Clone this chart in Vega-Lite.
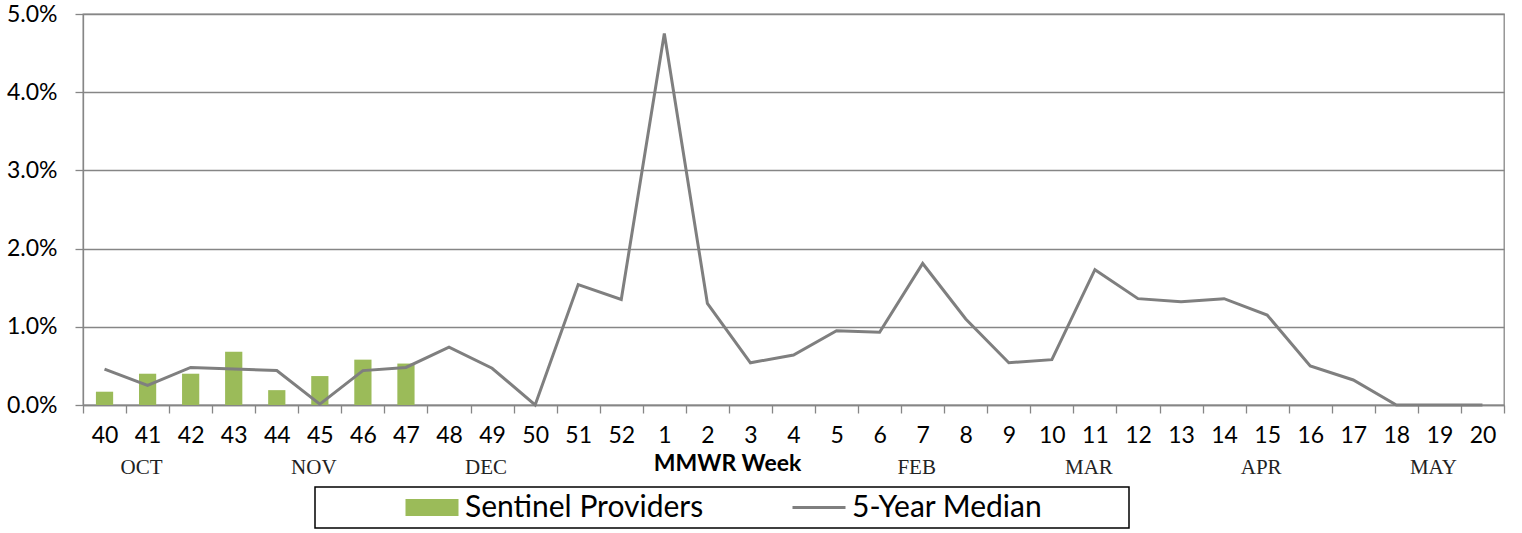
{
  "$schema": "https://vega.github.io/schema/vega-lite/v6.json",
  "width": 1421,
  "height": 391,
  "autosize": {"type": "none"},
  "padding": {"left": 83, "top": 14, "right": 18, "bottom": 128},
  "background": "white",
  "config": {
    "view": {"stroke": "#868686", "strokeWidth": 1.3},
    "font": "Lato",
    "axis": {
      "domainColor": "#868686",
      "domainWidth": 1.3,
      "tickColor": "#868686",
      "tickWidth": 1.3,
      "tickSize": 8,
      "labelColor": "black",
      "labelFont": "Lato",
      "labelFontSize": 23
    }
  },
  "data": {
    "values": [
      {"week": "40", "sentinel": 0.17, "median": 0.46},
      {"week": "41", "sentinel": 0.40, "median": 0.25},
      {"week": "42", "sentinel": 0.40, "median": 0.48},
      {"week": "43", "sentinel": 0.68, "median": 0.46},
      {"week": "44", "sentinel": 0.19, "median": 0.44},
      {"week": "45", "sentinel": 0.37, "median": 0.01},
      {"week": "46", "sentinel": 0.58, "median": 0.44},
      {"week": "47", "sentinel": 0.53, "median": 0.48},
      {"week": "48", "median": 0.74},
      {"week": "49", "median": 0.47},
      {"week": "50", "median": 0.0},
      {"week": "51", "median": 1.54},
      {"week": "52", "median": 1.35},
      {"week": "1", "median": 4.75},
      {"week": "2", "median": 1.30},
      {"week": "3", "median": 0.54},
      {"week": "4", "median": 0.64},
      {"week": "5", "median": 0.95},
      {"week": "6", "median": 0.93},
      {"week": "7", "median": 1.81},
      {"week": "8", "median": 1.10},
      {"week": "9", "median": 0.54},
      {"week": "10", "median": 0.58},
      {"week": "11", "median": 1.73},
      {"week": "12", "median": 1.36},
      {"week": "13", "median": 1.32},
      {"week": "14", "median": 1.36},
      {"week": "15", "median": 1.15},
      {"week": "16", "median": 0.50},
      {"week": "17", "median": 0.32},
      {"week": "18", "median": 0.0},
      {"week": "19", "median": 0.0},
      {"week": "20", "median": 0.0}
    ]
  },
  "layer": [
    {
      "mark": {"type": "bar", "width": {"band": 0.4}},
      "encoding": {
        "x": {
          "field": "week",
          "type": "nominal",
          "scale": {
            "domain": ["40","41","42","43","44","45","46","47","48","49","50","51","52","1","2","3","4","5","6","7","8","9","10","11","12","13","14","15","16","17","18","19","20"],
            "paddingInner": 0,
            "paddingOuter": 0
          },
          "axis": {
            "tickBand": "extent",
            "labelAngle": 0,
            "labelPadding": 11,
            "grid": false,
            "title": "MMWR Week",
            "titleFont": "Lato",
            "titleFontWeight": "bold",
            "titleFontSize": 23,
            "titleColor": "black",
            "titleX": 644,
            "titleY": 65.7,
            "titleBaseline": "alphabetic"
          }
        },
        "y": {
          "field": "sentinel",
          "type": "quantitative",
          "scale": {"domain": [0, 5]},
          "axis": {
            "values": [0, 1, 2, 3, 4, 5],
            "labelExpr": "format(datum.value, '.1f') + '%'",
            "grid": true,
            "gridColor": "#868686",
            "gridWidth": 1.3,
            "labelPadding": 18,
            "title": null
          }
        },
        "color": {
          "datum": "Sentinel Providers",
          "scale": {
            "domain": ["Sentinel Providers", "5-Year Median"],
            "range": ["#9BBB59", "#7F7F7F"]
          },
          "legend": {
            "orient": "none",
            "legendX": 232,
            "legendY": 473,
            "direction": "horizontal",
            "title": null,
            "strokeColor": "black",
            "padding": 5,
            "clipHeight": 31,
            "symbolSize": 2809,
            "symbolOffset": 97,
            "labelOffset": 18,
            "columnPadding": 3,
            "labelFont": "Lato",
            "labelFontSize": 30,
            "labelColor": "black",
            "labelLimit": 600,
            "labelExpr": "datum.label == '5-Year Median' ? datum.label + '\u2800 \u2800 \u2800' : datum.label",
            "encode": {
              "symbols": {
                "update": {
                  "shape": {"signal": "datum.value == 'Sentinel Providers' ? 'M-1,-0.32H1V0.32H-1Z' : 'M-1,0H1'"},
                  "fill": {"signal": "datum.value == 'Sentinel Providers' ? '#9BBB59' : 'transparent'"},
                  "stroke": {"signal": "datum.value == 'Sentinel Providers' ? 'transparent' : '#7F7F7F'"},
                  "strokeWidth": {"signal": "datum.value == 'Sentinel Providers' ? 0 : 3"},
                  "opacity": {"value": 1}
                }
              },
              "legend": {"update": {"strokeWidth": {"value": 1.5}}}
            }
          }
        }
      }
    },
    {
      "mark": {"type": "line", "strokeWidth": 3},
      "encoding": {
        "x": {"field": "week", "type": "nominal"},
        "y": {"field": "median", "type": "quantitative", "title": null},
        "color": {"datum": "5-Year Median"}
      }
    },
    {
      "data": {
        "values": [
          {"month": "OCT", "week": "41"},
          {"month": "NOV", "week": "45"},
          {"month": "DEC", "week": "49"},
          {"month": "FEB", "week": "7"},
          {"month": "MAR", "week": "11"},
          {"month": "APR", "week": "15"},
          {"month": "MAY", "week": "19"}
        ]
      },
      "mark": {"type": "text", "font": "Liberation Serif", "fontSize": 21, "baseline": "alphabetic", "align": "center", "dx": -6, "color": "#222222"},
      "encoding": {
        "x": {"field": "week", "type": "nominal"},
        "y": {"datum": -0.883, "type": "quantitative"},
        "text": {"field": "month"}
      }
    }
  ]
}
